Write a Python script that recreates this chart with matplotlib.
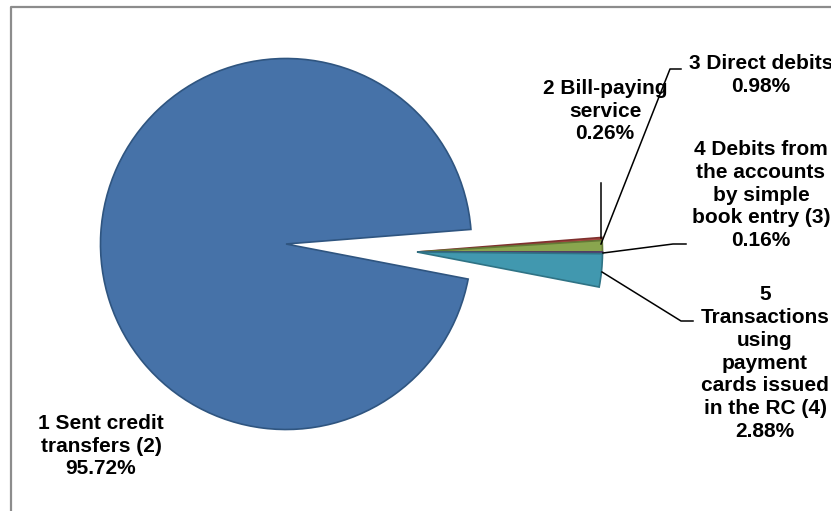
import matplotlib.pyplot as plt
from matplotlib.lines import Line2D

# Payment transaction shares (%)
categories = ['1 Sent credit\ntransfers (2)', '2 Bill-paying\nservice', '3 Direct debits',
              '4 Debits from\nthe accounts\nby simple\nbook entry (3)',
              '5\nTransactions\nusing\npayment\ncards issued\nin the RC (4)']
shares = [95.72, 0.26, 0.98, 0.16, 2.88]
colors = ['#4672a8', '#aa4643', '#89a54e', '#71588f', '#4198af']
edges = ['#2f5580', '#7f302e', '#637a36', '#4f3d66', '#2f7385']

plt.rcParams['font.family'] = ['Liberation Sans', 'DejaVu Sans']

W, H = 831, 511
fig = plt.figure(figsize=(W / 100, H / 100), dpi=100)
ax = fig.add_axes([0, 0, 1, 1])

R = 185.5
wedges, _ = ax.pie(shares, radius=R, center=(286, H - 244), startangle=-10.9,
                   counterclock=False, colors=colors,
                   wedgeprops=dict(linewidth=1.2))
for w, ec in zip(wedges, edges):
    w.set_edgecolor(ec)
# the small slices are pulled out together to a common apex
for w in wedges[1:]:
    w.set_center((417, H - 252))

ax.set_xlim(0, W)
ax.set_ylim(0, H)
ax.set_aspect('auto')
ax.axis('off')

# outer frame (cut at right and bottom)
ax.add_line(Line2D([11, 11, W], [0, H - 7, H - 7], color='#8c8c8c', lw=1.6))

# labels
label_pos = [(101, 446), (605, 111), (761, 75), (761, 195), (765, 363)]
for name, val, (x, y) in zip(categories, shares, label_pos):
    ax.text(x, H - y, f'{name}\n{val:.2f}%', ha='center', va='center',
            fontsize=15, fontweight='bold', color='black', linespacing=1.25)

# leader lines
leaders = [
    ([601, 601], [183, 238]),
    ([601, 670, 681], [244, 69, 69]),
    ([603, 673, 686], [253, 244, 244]),
    ([602, 681, 693], [272, 321, 321]),
]
for xs, ys in leaders:
    ax.add_line(Line2D(xs, [H - v for v in ys], color='black', lw=1.1))

fig.savefig('out.png', dpi=100)
